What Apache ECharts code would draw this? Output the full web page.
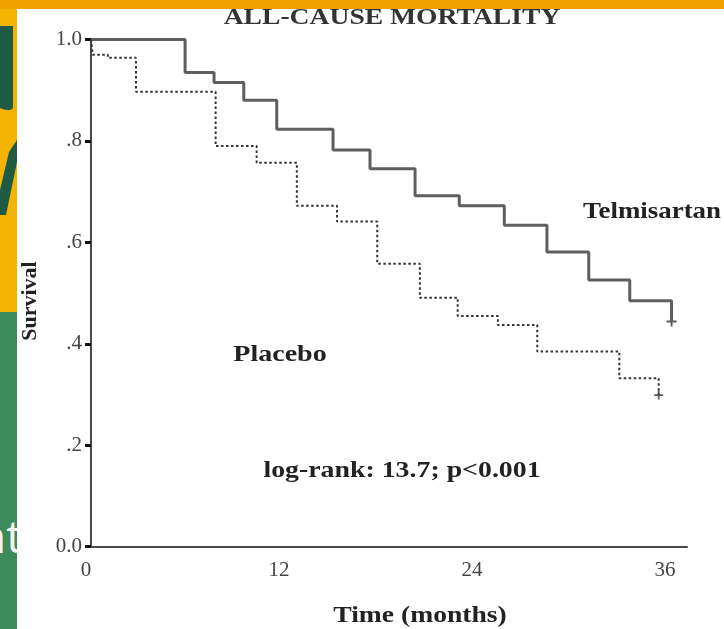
<!DOCTYPE html>
<html><head><meta charset="utf-8">
<script src="https://cdn.jsdelivr.net/npm/echarts@6/dist/echarts.min.js"></script>
<style>
html,body{margin:0;padding:0;width:724px;height:629px;overflow:hidden;}
#bg{position:absolute;left:0;top:0;width:724px;height:629px;background:#F3B300;overflow:hidden;}
#green{position:absolute;left:0;top:312px;width:17px;height:317px;background:#3D8A5A;}
#band{position:absolute;left:0;top:0;width:724px;height:9px;background:#EFA100;}
#panel{position:absolute;left:17px;top:9px;width:707px;height:620px;background:#fff;}
#tstem{position:absolute;left:-12px;top:26px;width:25px;height:84px;background:#1E5A44;border-bottom-left-radius:22px;border-bottom-right-radius:4px;}
#ydiag{position:absolute;left:0;top:140px;width:17px;height:80px;background:#1E5A44;
  clip-path:polygon(9px 12px, 17px 0px, 17px 22px, 6px 75px, 0px 75px, 0px 50px);}
.slide{position:absolute;font-family:"Open Sans";line-height:1;white-space:nowrap;}
#chart{position:absolute;left:0;top:0;width:724px;height:629px;}
</style></head>
<body>
<div id="bg">
  <div id="green"></div>
  <div id="tstem"></div>
  <div id="ydiag"></div>
  <span class="slide" style="left:-22px;top:512px;font-size:46px;color:#F4F4EE;">nt</span>
  <div id="panel"></div>
</div>
<div id="chart"></div>
<div id="band"></div>
<script>
// Kaplan-Meier step data (months, survival)
const xTicks = [0, 12, 24, 36];
const telmisartanTimes    = [0,   5.85, 7.65, 9.5,  11.55, 15.05, 17.35, 20.15, 22.9,  25.7,  28.35, 30.95, 33.5,  36.1];
const telmisartanSurvival = [1.0, 0.935, 0.915, 0.880, 0.823, 0.782, 0.745, 0.692, 0.672, 0.634, 0.581, 0.526, 0.485, 0.444];
const placeboTimes    = [0,   0.1,  1.05,  2.8,   7.75,  10.3,  12.8,  15.3,  17.8,  20.45, 22.8,  25.3,  27.75, 32.85, 35.3];
const placeboSurvival = [1.0, 0.970, 0.964, 0.897, 0.790, 0.757, 0.672, 0.641, 0.558, 0.491, 0.455, 0.437, 0.385, 0.332, 0.299];
const censorTelmisartan = [[36.1, 0.444]];
const censorPlacebo = [[35.3, 0.299]];

const pairs = (t, s) => t.map((v, i) => [v, s[i]]);
const SERIF = '"Liberation Serif", "DejaVu Serif", serif';
const plusPath = 'path://M0,4h10v2h-10z M4,0h2v10h-2z';

function label(text, x, y, size, sx, extra, color) {
  return Object.assign({
    type: 'text', x: x, y: y, scaleX: sx,
    style: {text: text, font: 'bold ' + size + 'px ' + SERIF, fill: color || '#222',
      textAlign: 'center', align: 'center', textVerticalAlign: 'middle', verticalAlign: 'middle'}
  }, extra || {});
}

const chart = echarts.init(document.getElementById('chart'), null, {renderer: 'canvas'});
chart.setOption({
  animation: false,
  backgroundColor: 'transparent',
  grid: {left: 91, right: 37, top: 39.5, bottom: 82.3, containLabel: false, outerBoundsMode: 'none'},
  xAxis: {
    type: 'value', min: 0, max: 37.06, interval: 12,
    axisLine: {show: true, onZero: false, lineStyle: {color: '#4a4a4a', width: 2}},
    axisTick: {show: false},
    splitLine: {show: false},
    axisLabel: {
      fontFamily: SERIF, fontSize: 21, color: '#444', margin: 13, padding: [0, 10, 0, 0],
      formatter: v => (xTicks.indexOf(v) >= 0 ? String(v) : '')
    }
  },
  yAxis: {
    type: 'value', min: 0, max: 1, interval: 0.2,
    axisLine: {show: true, lineStyle: {color: '#4a4a4a', width: 2}},
    axisTick: {show: true, length: 6, lineStyle: {color: '#111', width: 3}},
    splitLine: {show: false},
    axisLabel: {
      fontFamily: SERIF, fontSize: 21, color: '#444', margin: 9,
      formatter: v => (v === 0 ? '0.0' : v === 1 ? '1.0' : '.' + Math.round(v * 10))
    }
  },
  series: [
    {
      name: 'Telmisartan', type: 'line', step: 'end', symbol: 'none',
      data: pairs(telmisartanTimes, telmisartanSurvival),
      lineStyle: {color: '#5e5e5e', width: 3}
    },
    {
      name: 'Placebo', type: 'line', step: 'end', symbol: 'none',
      data: pairs(placeboTimes, placeboSurvival),
      lineStyle: {color: '#333', width: 2, type: [2.5, 2.5]}
    },
    {
      type: 'scatter', symbol: plusPath, symbolSize: 10,
      itemStyle: {color: '#333'}, data: censorTelmisartan
    },
    {
      type: 'scatter', symbol: plusPath, symbolSize: 9,
      itemStyle: {color: '#333'}, data: censorPlacebo
    }
  ],
  graphic: [
    label('ALL-CAUSE MORTALITY', 392, 18, 23, 1.2, null, '#333'),
    label('Telmisartan', 652, 212, 23, 1.17),
    label('Placebo', 280, 355, 23, 1.22),
    label('log-rank: 13.7; p<0.001', 402, 471, 23, 1.21),
    label('Time (months)', 420, 616, 23, 1.2),
    label('Survival', 30, 301, 22, 1, {rotation: Math.PI / 2})
  ]
});
</script>
</body></html>
